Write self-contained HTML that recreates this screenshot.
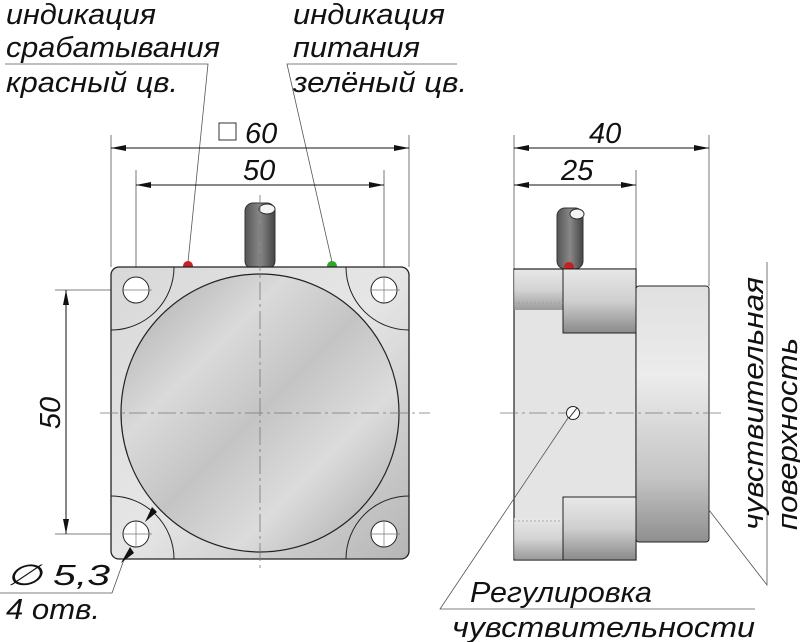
<!DOCTYPE html>
<html><head><meta charset="utf-8"><style>html,body{margin:0;padding:0;background:#fff}svg{display:block}text{font-family:"Liberation Sans",sans-serif;font-style:italic;fill:#111}</style></head><body>
<svg width="800" height="642" viewBox="0 0 800 642" xmlns="http://www.w3.org/2000/svg">
<defs>
<linearGradient id="plate" x1="0" y1="0" x2="1" y2="1"><stop offset="0" stop-color="#d8d8d8"/><stop offset=".5" stop-color="#e6e6e6"/><stop offset="1" stop-color="#b5b5b5"/></linearGradient>
<linearGradient id="disk" x1="0" y1="0" x2="1" y2="1"><stop offset="0" stop-color="#a9a9a9"/><stop offset=".3" stop-color="#dadada"/><stop offset=".5" stop-color="#c4c4c4"/><stop offset=".7" stop-color="#dcdcdc"/><stop offset="1" stop-color="#a5a5a5"/></linearGradient>
<linearGradient id="vblk" x1="0" y1="0" x2="0" y2="1"><stop offset="0" stop-color="#e8e8e8"/><stop offset=".5" stop-color="#cfcfcf"/><stop offset="1" stop-color="#8a8a8a"/></linearGradient>
<linearGradient id="ring" x1="0" y1="0" x2="0" y2="1"><stop offset="0" stop-color="#e0e0e0"/><stop offset=".35" stop-color="#ececec"/><stop offset=".75" stop-color="#c4c4c4"/><stop offset="1" stop-color="#8f8f8f"/></linearGradient>
<linearGradient id="cab" x1="0" y1="0" x2="1" y2="0"><stop offset="0" stop-color="#555"/><stop offset=".5" stop-color="#888"/><stop offset="1" stop-color="#444"/></linearGradient>
<marker id="a" viewBox="0 0 10 4" refX="10" refY="2" markerWidth="16" markerHeight="6" markerUnits="userSpaceOnUse" orient="auto-start-reverse"><path d="M0,0L10,2L0,4z" fill="#111"/></marker>
</defs>
<g stroke="#555" stroke-width="0.8" fill="none">
<line x1="111" y1="135" x2="111" y2="267"/><line x1="409" y1="135" x2="409" y2="267"/>
<line x1="136" y1="170" x2="136" y2="290"/><line x1="384" y1="170" x2="384" y2="290"/>
<line x1="514" y1="135" x2="514" y2="269"/><line x1="636" y1="170" x2="636" y2="269"/><line x1="709" y1="135" x2="709" y2="286"/>
<line x1="55" y1="290" x2="136" y2="290"/><line x1="55" y1="534" x2="136" y2="534"/>
<polyline points="5,64 208,64 188,262"/><polyline points="457,64 287,64 332,262"/>
<polyline points="0,593 112,593 140,515"/>
</g>
<g stroke="#111" stroke-width="1">
<line x1="111" y1="148" x2="409" y2="148" marker-start="url(#a)" marker-end="url(#a)"/>
<line x1="136" y1="185" x2="384" y2="185" marker-start="url(#a)" marker-end="url(#a)"/>
<line x1="66" y1="290" x2="66" y2="534" marker-start="url(#a)" marker-end="url(#a)"/>
<line x1="514" y1="148" x2="709" y2="148" marker-start="url(#a)" marker-end="url(#a)"/>
<line x1="514" y1="185" x2="636" y2="185" marker-start="url(#a)" marker-end="url(#a)"/>
</g>
<!-- front view -->
<rect x="245" y="203" width="30" height="66" rx="8" fill="url(#cab)" stroke="#333"/>
<ellipse cx="267" cy="209" rx="8" ry="5" fill="#f4f4f4" stroke="#333"/>
<circle cx="188" cy="266" r="5" fill="#c62020"/><circle cx="332" cy="266" r="5" fill="#2aa82a"/>
<rect x="111" y="267" width="298" height="292" rx="8" fill="url(#plate)" stroke="#222" stroke-width="1.3"/>
<g stroke="#222" fill="none" stroke-width="1"><path d="M174,267A63,63 0 0 1 111,330"/><path d="M346,267A63,63 0 0 0 409,330"/><path d="M111,496A63,63 0 0 1 174,559"/><path d="M409,496A63,63 0 0 0 346,559"/></g>
<circle cx="260" cy="413" r="139" fill="url(#disk)" stroke="#222" stroke-width="1.2"/>
<g fill="#fff" stroke="#222"><circle cx="136" cy="290" r="13"/><circle cx="384" cy="290" r="13"/><circle cx="136" cy="534" r="13"/><circle cx="384" cy="534" r="13"/></g>
<g stroke="#777" stroke-width="0.7"><line x1="122" y1="290" x2="152" y2="290"/><line x1="370" y1="290" x2="400" y2="290"/><line x1="122" y1="534" x2="152" y2="534"/><line x1="370" y1="534" x2="400" y2="534"/><line x1="384" y1="276" x2="384" y2="304"/><line x1="384" y1="520" x2="384" y2="548"/><line x1="136" y1="520" x2="136" y2="548"/></g>
<path d="M152,507L145,522L157,512z M121,563L130,547L134,553z" fill="#111"/>
<g stroke="#777" stroke-width="0.8" stroke-dasharray="18,4,3,4" fill="none"><line x1="100" y1="413" x2="430" y2="413"/><line x1="260" y1="195" x2="260" y2="572"/></g>
<!-- side view -->
<rect x="557" y="208" width="26" height="61" rx="8" fill="url(#cab)" stroke="#333"/>
<ellipse cx="577" cy="214" rx="7" ry="5" fill="#f4f4f4" stroke="#333"/>
<circle cx="569" cy="267" r="5" fill="#c62020"/>
<rect x="514" y="269" width="122" height="291" fill="#e4e4e4" stroke="#222" stroke-width="1.2"/>
<rect x="514" y="270" width="49" height="40" fill="url(#vblk)" opacity=".8"/>
<rect x="514" y="518" width="49" height="41" fill="url(#vblk)" opacity=".8"/>
<rect x="563" y="269" width="73" height="64" fill="url(#vblk)" stroke="#222"/>
<rect x="563" y="497" width="73" height="63" fill="url(#vblk)" stroke="#222"/>
<rect x="636" y="286" width="73" height="256" rx="3" fill="url(#ring)" stroke="#222"/>
<g stroke="#999" stroke-dasharray="2,2" stroke-width="0.7"><line x1="514" y1="303" x2="563" y2="303"/><line x1="514" y1="521" x2="563" y2="521"/></g>
<line x1="500" y1="413" x2="722" y2="413" stroke="#777" stroke-width="0.8" stroke-dasharray="18,4,3,4"/>
<circle cx="573" cy="413" r="6.5" fill="#fff" stroke="#222"/><line x1="569" y1="418" x2="577" y2="408" stroke="#222"/>
<g stroke="#555" stroke-width="0.8" fill="none">
<polyline points="755,609 440,609 568,418"/>
<polyline points="767,262 767,585 709,510"/>
</g>
<!-- text -->
<g font-size="29">
<text x="6" y="24" textLength="150" lengthAdjust="spacingAndGlyphs">индикация</text><text x="6" y="57" textLength="214" lengthAdjust="spacingAndGlyphs">срабатывания</text><text x="6" y="92" textLength="172" lengthAdjust="spacingAndGlyphs">красный цв.</text>
<text x="293" y="24" textLength="152" lengthAdjust="spacingAndGlyphs">индикация</text><text x="293" y="57" textLength="127" lengthAdjust="spacingAndGlyphs">питания</text><text x="293" y="92" textLength="174" lengthAdjust="spacingAndGlyphs">зелёный цв.</text>
<text x="245" y="143">60</text><text x="243" y="180">50</text>
<text x="589" y="143">40</text><text x="561" y="180">25</text>
<text transform="translate(60,413) rotate(-90)" text-anchor="middle">50</text>
<text x="6" y="585" textLength="104" lengthAdjust="spacingAndGlyphs">∅ 5,3</text><text x="6" y="619" textLength="94" lengthAdjust="spacingAndGlyphs">4 отв.</text>
<text x="470" y="602" textLength="182" lengthAdjust="spacingAndGlyphs">Регулировка</text><text x="452" y="637" textLength="303" lengthAdjust="spacingAndGlyphs">чувствительности</text>
<text transform="translate(763,530) rotate(-90)" textLength="253" lengthAdjust="spacingAndGlyphs">чувствительная</text>
<text transform="translate(797,530) rotate(-90)" textLength="192" lengthAdjust="spacingAndGlyphs">поверхность</text>
</g>
<rect x="219" y="123" width="17" height="17" fill="none" stroke="#333"/>
</svg>
</body></html>
